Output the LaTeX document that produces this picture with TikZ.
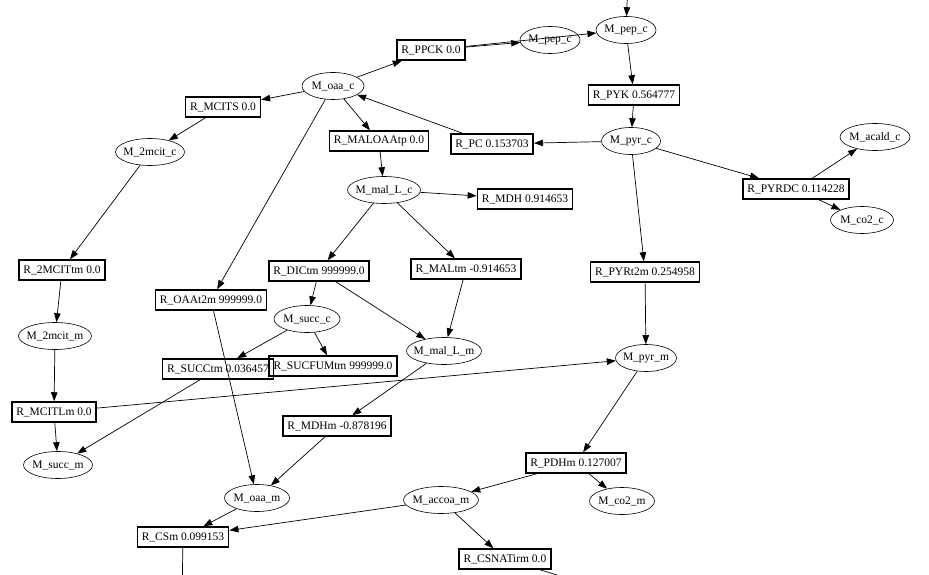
\documentclass[tikz,border=0pt]{standalone}
\usepackage{fontspec}
\setmainfont{Liberation Serif}
\usetikzlibrary{shapes.geometric,arrows.meta}
\begin{document}
\begin{tikzpicture}[
    x=1pt, y=-1pt,
    font=\fontsize{11.5}{13}\selectfont,
    >={Triangle[length=9pt,width=6.5pt]},
    rxn/.style={draw, line width=1.5pt, inner xsep=4.5pt, inner ysep=0pt, minimum height=20pt},
    met/.style={draw, ellipse, line width=0.6pt, inner xsep=-8pt, inner ysep=1pt,
      minimum height=27pt, minimum width=#1},
    edge/.style={->, line width=0.7pt}
  ]
    \useasboundingbox (0,0) rectangle (929,575);
    \clip (0,0) rectangle (929,575);

    % metabolites
    \node[met=60pt] (pepc1) at (550,40) {M\_pep\_c};
    \node[met=60pt] (pepc2) at (626,30) {M\_pep\_c};
    \node[met=62pt] (oaac) at (333,86) {M\_oaa\_c};
    \node[met=69pt] (twomcitc) at (150,152) {M\_2mcit\_c};
    \node[met=73pt] (malLc) at (384,190) {M\_mal\_L\_c};
    \node[met=59pt] (pyrc) at (631,141) {M\_pyr\_c};
    \node[met=70pt] (acaldc) at (875,137) {M\_acald\_c};
    \node[met=63pt] (co2c) at (862,220) {M\_co2\_c};
    \node[met=66pt] (succc) at (307,319) {M\_succ\_c};
    \node[met=75pt] (malLm) at (444,351) {M\_mal\_L\_m};
    \node[met=73pt] (twomcitm) at (55,336) {M\_2mcit\_m};
    \node[met=69pt] (succm) at (58,465) {M\_succ\_m};
    \node[met=61pt] (pyrm) at (646,358) {M\_pyr\_m};
    \node[met=75pt] (accoam) at (441,500) {M\_accoa\_m};
    \node[met=65pt] (co2m) at (622,501) {M\_co2\_m};
    \node[met=65pt] (oaam) at (257,498) {M\_oaa\_m};

    % reactions
    \node[rxn] (ppck) at (431,50) {R\_PPCK 0.0};
    \node[rxn] (pyk) at (634,95) {R\_PYK 0.564777};
    \node[rxn] (mcits) at (223,107) {R\_MCITS 0.0};
    \node[rxn] (maloaatp) at (379,141) {R\_MALOAAtp 0.0};
    \node[rxn] (pc) at (492,144) {R\_PC 0.153703};
    \node[rxn] (pyrdc) at (796,189) {R\_PYRDC 0.114228};
    \node[rxn] (mdh) at (525,199) {R\_MDH 0.914653};
    \node[rxn] (twomcittm) at (62,270) {R\_2MCITtm 0.0};
    \node[rxn] (dictm) at (319,271) {R\_DICtm 999999.0};
    \node[rxn] (maltm) at (466,269) {R\_MALtm -0.914653};
    \node[rxn] (pyrt2m) at (645,272) {R\_PYRt2m 0.254958};
    \node[rxn] (oaat2m) at (211,300) {R\_OAAt2m 999999.0};
    \node[rxn] (succtm) at (218,369) {R\_SUCCtm 0.036457};
    \node[rxn] (sucfumtm) at (333,366) {R\_SUCFUMtm 999999.0};
    \node[rxn] (mcitlm) at (54,412) {R\_MCITLm 0.0};
    \node[rxn] (mdhm) at (337,426) {R\_MDHm -0.878196};
    \node[rxn] (pdhm) at (576,463) {R\_PDHm 0.127007};
    \node[rxn] (csm) at (183,537) {R\_CSm 0.099153};
    \node[rxn] (csnatirm) at (505,559) {R\_CSNATirm 0.0};

    % loose ends at the picture border
    \coordinate (topin) at (628,-20);
    \coordinate (csmout) at (182,600);
    \coordinate (csnatout) at (570,579);

    \draw[edge] (topin) -- (pepc2);
    \draw[edge] (oaac) -- (ppck);
    \draw[edge] (ppck) -- (pepc1);
    \draw[edge] (ppck) -- (pepc2);
    \draw[edge] (pepc2) -- (pyk);
    \draw[edge] (pyk) -- (pyrc);
    \draw[edge] (pyrc) -- (pc);
    \draw[edge] (pc) -- (oaac);
    \draw[edge] (pyrc) -- (pyrdc);
    \draw[edge] (pyrdc) -- (acaldc);
    \draw[edge] (pyrdc) -- (co2c);
    \draw[edge] (pyrc) -- (pyrt2m);
    \draw[edge] (pyrt2m) -- (pyrm);
    \draw[edge] (oaac) -- (mcits);
    \draw[edge] (mcits) -- (twomcitc);
    \draw[edge] (twomcitc) -- (twomcittm);
    \draw[edge] (twomcittm) -- (twomcitm);
    \draw[edge] (twomcitm) -- (mcitlm);
    \draw[edge] (mcitlm) -- (succm);
    \draw[edge] (mcitlm) -- (pyrm);
    \draw[edge] (oaac) -- (oaat2m);
    \draw[edge] (oaat2m) -- (oaam);
    \draw[edge] (oaac) -- (maloaatp);
    \draw[edge] (maloaatp) -- (malLc);
    \draw[edge] (malLc) -- (mdh);
    \draw[edge] (malLc) -- (dictm);
    \draw[edge] (malLc) -- (maltm);
    \draw[edge] (dictm) -- (succc);
    \draw[edge] (dictm) -- (malLm);
    \draw[edge] (maltm) -- (malLm);
    \draw[edge] (succc) -- (succtm);
    \draw[edge] (succc) -- (sucfumtm);
    \draw[edge] (succtm) -- (succm);
    \draw[edge] (malLm) -- (mdhm);
    \draw[edge] (mdhm) -- (oaam);
    \draw[edge] (pyrm) -- (pdhm);
    \draw[edge] (pdhm) -- (accoam);
    \draw[edge] (pdhm) -- (co2m);
    \draw[edge] (accoam) -- (csm);
    \draw[edge] (oaam) -- (csm);
    \draw[edge] (accoam) -- (csnatirm);
    \draw[line width=0.7pt] (csm) -- (csmout);
    \draw[line width=0.7pt] (csnatirm) -- (csnatout);
  \end{tikzpicture}
\end{document}
